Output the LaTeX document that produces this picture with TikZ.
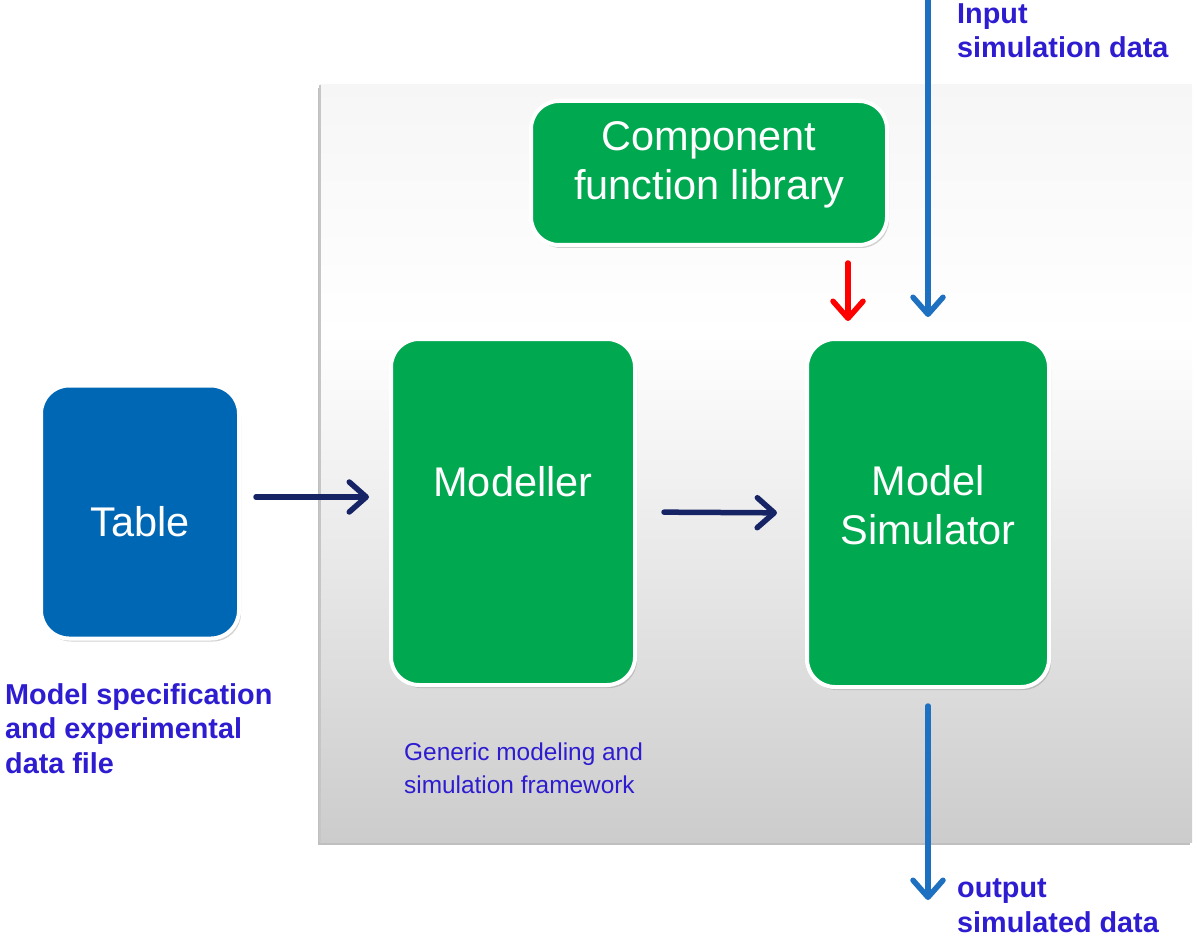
\documentclass[tikz,border=0pt]{standalone}
\usepackage{fontspec}
\setmainfont{Liberation Sans}
\usetikzlibrary{arrows.meta,shadows,calc}
\definecolor{boxgreen}{RGB}{0,168,80}
\definecolor{boxblue}{RGB}{0,103,180}
\definecolor{navy}{RGB}{22,36,102}
\definecolor{arrblue}{RGB}{30,112,192}
\definecolor{labblue}{RGB}{45,28,208}
\tikzset{
  rbox/.style={draw=white, line width=4pt, rounded corners=28pt, inner sep=0pt,
    drop shadow={opacity=0.35, shadow xshift=2pt, shadow yshift=-3pt}},
  gbox/.style={rbox, fill=boxgreen},
  bbox/.style={rbox, fill=boxblue},
  boxtext/.style={text=white, align=center, inner sep=0pt, font=\fontsize{41.5}{48.5}\selectfont},
  arrowline/.style={line width=5.5pt, line cap=round, line join=round,
    -{Straight Barb[length=17pt, width=30pt, line cap=round, line join=round]}},
  navyarr/.style={arrowline, draw=navy},
  redarr/.style={arrowline, draw=red},
  bluearr/.style={arrowline, draw=arrblue},
  boldlab/.style={text=labblue, align=left, inner sep=0pt, anchor=base west, font=\bfseries\fontsize{28.8}{34.5}\selectfont},
  thinlab/.style={text=labblue, align=left, inner sep=0pt, anchor=base west, font=\fontsize{24.4}{33}\selectfont}
}
\begin{document}
\begin{tikzpicture}[x=1pt,y=-1pt]
\useasboundingbox (0,0) rectangle (1200,936);
% framework
\node[draw=none, minimum width=872pt, minimum height=757pt, inner sep=0pt,
  fill=white, drop shadow={opacity=0.5, shadow xshift=-2pt, shadow yshift=-3pt}] (fw) at (756,463.5) {};
\shade[top color=gray!7, bottom color=white] (fw.north west) rectangle ($(fw.north east)!0.33!(fw.south east)$);
\shade[top color=white, bottom color=gray!40] ($(fw.north west)!0.33!(fw.south west)$) rectangle (fw.south east);
\draw[gray!45, line width=1.5pt] (fw.south west) -- (fw.north west);
% boxes
\node[gbox, minimum width=356pt, minimum height=144pt] (lib) at (709,173) {};
\node[boxtext] (libt) at (709,165) {Component\\function library};
\node[gbox, minimum width=244pt, minimum height=346pt] (mod) at (513,512) {};
\node[boxtext] (modt) at (513,482) {Modeller};
\node[gbox, minimum width=242pt, minimum height=348pt] (sim) at (928,513) {};
\node[boxtext] (simt) at (928,505) {Model\\Simulator};
\node[bbox, minimum width=198pt, minimum height=253pt] (tbl) at (140,512) {};
\node[boxtext] (tblt) at (140,522) {Table};
% arrows
\draw[navyarr, shorten <=15pt, shorten >=20pt] ([yshift=15pt]tbl.east) -- ([yshift=15pt]tbl.east -| mod.west);
\draw[navyarr, shorten <=27pt, shorten >=28pt] (mod.east) -- (sim.west);
\coordinate (rd) at ($(lib.south east)+(-41,0)$);
\draw[redarr, shorten <=16pt, shorten >=16pt] (rd) -- (rd |- sim.north);
\coordinate (in) at (928,0);
\draw[bluearr, shorten >=20pt] (in) -- (sim.north);
\coordinate (out) at (928,900);
\draw[bluearr, shorten <=17pt] (sim.south) -- (out);
% labels (base anchor = baseline of the last line)
\node[boldlab] (inl) at (957,58) {Input\\simulation data};
\node[boldlab] (outl) at (957,932) {output\\simulated data};
\node[boldlab] (specl) at (5,773) {Model specification\\and experimental\\data file};
\node[thinlab] (fwl) at (404,793) {Generic modeling and\\simulation framework};
\end{tikzpicture}
\end{document}
